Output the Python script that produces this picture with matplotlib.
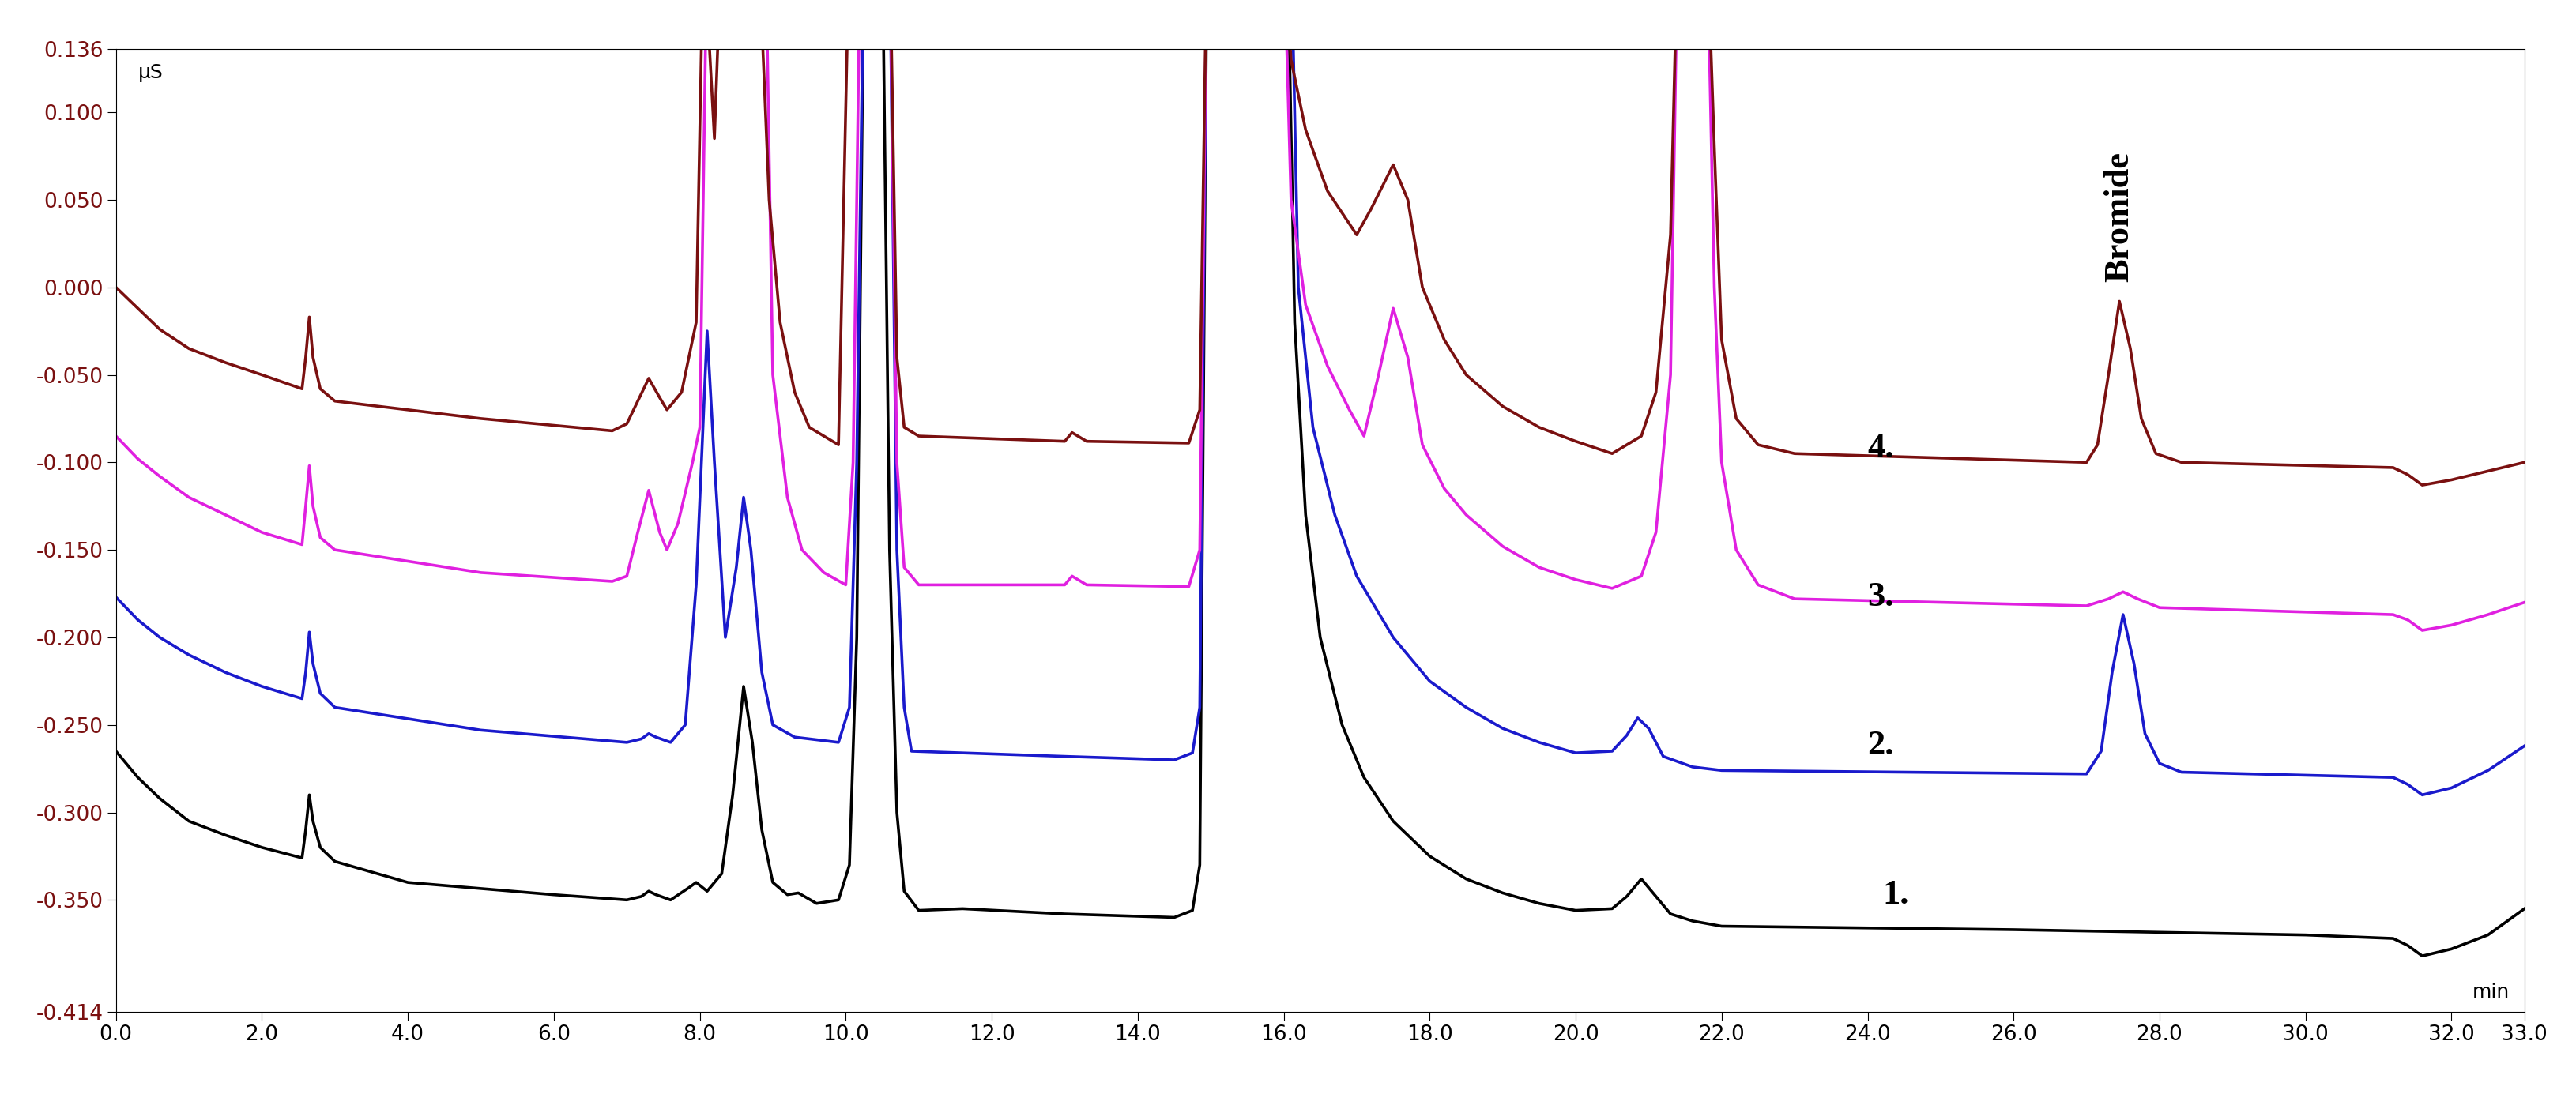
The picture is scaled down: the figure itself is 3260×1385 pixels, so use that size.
import matplotlib.pyplot as plt

# (time min, signal uS); peaks that run off the top are clipped
t1 = [0, 0.3, 0.6, 1, 1.5, 2, 2.55, 2.6, 2.65, 2.7, 2.8, 3, 4, 6, 7, 7.2, 7.3, 7.4, 7.6, 7.85, 7.95, 8.1, 8.3, 8.45, 8.6, 8.72, 8.85, 9.0, 9.2, 9.35, 9.6, 9.9, 10.05, 10.15, 10.25, 10.35, 10.5, 10.6, 10.7, 10.8, 11, 11.6, 13, 14.5, 14.75, 14.85, 14.95, 16.05, 16.15, 16.3, 16.5, 16.8, 17.1, 17.5, 18, 18.5, 19, 19.5, 20, 20.5, 20.7, 20.9, 21.1, 21.3, 21.6, 22, 26, 30, 31.2, 31.4, 31.6, 32, 32.5, 33]
s1 = [-0.265, -0.28, -0.292, -0.305, -0.313, -0.32, -0.326, -0.31, -0.29, -0.305, -0.32, -0.328, -0.34, -0.347, -0.35, -0.348, -0.345, -0.347, -0.35, -0.343, -0.34, -0.345, -0.335, -0.29, -0.228, -0.26, -0.31, -0.34, -0.347, -0.346, -0.352, -0.35, -0.33, -0.2, 0.2, 0.2, 0.2, -0.15, -0.3, -0.345, -0.356, -0.355, -0.358, -0.36, -0.356, -0.33, 0.2, 0.2, -0.02, -0.13, -0.2, -0.25, -0.28, -0.305, -0.325, -0.338, -0.346, -0.352, -0.356, -0.355, -0.348, -0.338, -0.348, -0.358, -0.362, -0.365, -0.367, -0.37, -0.372, -0.376, -0.382, -0.378, -0.37, -0.355]

t2 = [0, 0.3, 0.6, 1, 1.5, 2, 2.55, 2.6, 2.65, 2.7, 2.8, 3, 5, 7, 7.2, 7.3, 7.4, 7.6, 7.8, 7.95, 8.1, 8.2, 8.35, 8.5, 8.6, 8.7, 8.85, 9.0, 9.3, 9.9, 10.05, 10.15, 10.25, 10.6, 10.7, 10.8, 10.9, 13, 14.5, 14.75, 14.85, 14.95, 16.1, 16.2, 16.4, 16.7, 17, 17.5, 18, 18.5, 19, 19.5, 20, 20.5, 20.7, 20.85, 21.0, 21.2, 21.6, 22, 27, 27.2, 27.35, 27.5, 27.65, 27.8, 28.0, 28.3, 31.2, 31.4, 31.6, 32, 32.5, 33]
s2 = [-0.177, -0.19, -0.2, -0.21, -0.22, -0.228, -0.235, -0.22, -0.197, -0.215, -0.232, -0.24, -0.253, -0.26, -0.258, -0.255, -0.257, -0.26, -0.25, -0.17, -0.025, -0.1, -0.2, -0.16, -0.12, -0.15, -0.22, -0.25, -0.257, -0.26, -0.24, -0.1, 0.2, 0.2, -0.15, -0.24, -0.265, -0.268, -0.27, -0.266, -0.24, 0.2, 0.2, 0.0, -0.08, -0.13, -0.165, -0.2, -0.225, -0.24, -0.252, -0.26, -0.266, -0.265, -0.256, -0.246, -0.252, -0.268, -0.274, -0.276, -0.278, -0.265, -0.22, -0.187, -0.215, -0.255, -0.272, -0.277, -0.28, -0.284, -0.29, -0.286, -0.276, -0.262]

t3 = [0, 0.3, 0.6, 1, 1.5, 2, 2.55, 2.6, 2.65, 2.7, 2.8, 3, 5, 6.8, 7.0, 7.15, 7.3, 7.45, 7.55, 7.7, 7.9, 8.0, 8.1, 8.9, 9.0, 9.2, 9.4, 9.7, 10, 10.1, 10.2, 10.6, 10.7, 10.8, 11, 13, 13.1, 13.3, 14.7, 14.85, 14.95, 16.0, 16.1, 16.3, 16.6, 16.9, 17.1, 17.3, 17.5, 17.7, 17.9, 18.2, 18.5, 19, 19.5, 20, 20.5, 20.9, 21.1, 21.3, 21.4, 21.8, 21.9, 22.0, 22.2, 22.5, 23, 27, 27.3, 27.5, 27.7, 28, 31.2, 31.4, 31.6, 32, 32.5, 33]
s3 = [-0.085, -0.098, -0.108, -0.12, -0.13, -0.14, -0.147, -0.125, -0.102, -0.125, -0.143, -0.15, -0.163, -0.168, -0.165, -0.14, -0.116, -0.14, -0.15, -0.135, -0.1, -0.08, 0.2, 0.2, -0.05, -0.12, -0.15, -0.163, -0.17, -0.1, 0.2, 0.2, -0.1, -0.16, -0.17, -0.17, -0.165, -0.17, -0.171, -0.15, 0.2, 0.2, 0.05, -0.01, -0.045, -0.07, -0.085, -0.05, -0.012, -0.04, -0.09, -0.115, -0.13, -0.148, -0.16, -0.167, -0.172, -0.165, -0.14, -0.05, 0.2, 0.2, 0.0, -0.1, -0.15, -0.17, -0.178, -0.182, -0.178, -0.174, -0.178, -0.183, -0.187, -0.19, -0.196, -0.193, -0.187, -0.18]

t4 = [0, 0.3, 0.6, 1, 1.5, 2, 2.55, 2.6, 2.65, 2.7, 2.8, 3, 5, 6.8, 7.0, 7.15, 7.3, 7.45, 7.55, 7.75, 7.95, 8.05, 8.2, 8.3, 8.8, 8.95, 9.1, 9.3, 9.5, 9.9, 10.05, 10.6, 10.7, 10.8, 11, 13, 13.1, 13.3, 14.7, 14.85, 14.95, 16.0, 16.1, 16.3, 16.6, 17.0, 17.2, 17.5, 17.7, 17.9, 18.2, 18.5, 19, 19.5, 20, 20.5, 20.9, 21.1, 21.3, 21.4, 21.8, 21.9, 22.0, 22.2, 22.5, 23, 27, 27.15, 27.3, 27.45, 27.6, 27.75, 27.95, 28.3, 31.2, 31.4, 31.6, 32, 32.5, 33]
s4 = [0.0, -0.012, -0.024, -0.035, -0.043, -0.05, -0.058, -0.04, -0.017, -0.04, -0.058, -0.065, -0.075, -0.082, -0.078, -0.065, -0.052, -0.063, -0.07, -0.06, -0.02, 0.2, 0.085, 0.2, 0.2, 0.05, -0.02, -0.06, -0.08, -0.09, 0.2, 0.2, -0.04, -0.08, -0.085, -0.088, -0.083, -0.088, -0.089, -0.07, 0.2, 0.2, 0.13, 0.09, 0.055, 0.03, 0.045, 0.07, 0.05, 0.0, -0.03, -0.05, -0.068, -0.08, -0.088, -0.095, -0.085, -0.06, 0.03, 0.2, 0.2, 0.08, -0.03, -0.075, -0.09, -0.095, -0.1, -0.09, -0.05, -0.008, -0.035, -0.075, -0.095, -0.1, -0.103, -0.107, -0.113, -0.11, -0.105, -0.1]

labels = ["1.", "2.", "3.", "4."]
label_pos = [(24.2, -0.352), (24.0, -0.267), (24.0, -0.182), (24.0, -0.097)]

fig = plt.figure(figsize=(32.6, 13.85), dpi=100)
ax = fig.add_axes([0.045, 0.075, 0.935, 0.88])

ax.plot(t1, s1, color="black", lw=2.6)
ax.plot(t2, s2, color="#1a1acc", lw=2.6)
ax.plot(t3, s3, color="#e020e0", lw=2.6)
ax.plot(t4, s4, color="#7a1010", lw=2.6)

for lab, (x, y) in zip(labels, label_pos):
    ax.text(x, y, lab, fontsize=32, fontweight="bold", family="Liberation Serif")
ax.text(27.45, 0.003, "Bromide", rotation=90, ha="center", va="bottom",
        fontsize=32, fontweight="bold", family="Liberation Serif")

ax.set_xlim(0, 33)
ax.set_ylim(-0.414, 0.136)
xt = [i * 2 for i in range(17)] + [33]
ax.set_xticks(xt)
ax.set_xticklabels(["%.1f" % v for v in xt])
yt = [-0.414, -0.35, -0.3, -0.25, -0.2, -0.15, -0.1, -0.05, 0.0, 0.05, 0.1, 0.136]
ax.set_yticks(yt)
ax.set_yticklabels(["%.3f" % v for v in yt], color="#7a1010")
ax.tick_params(labelsize=19, length=8)
ax.text(0.3, 0.128, "µS", fontsize=18, va="top")
ax.text(32.8, -0.408, "min", fontsize=18, ha="right", va="bottom")

fig.savefig("out.png")
